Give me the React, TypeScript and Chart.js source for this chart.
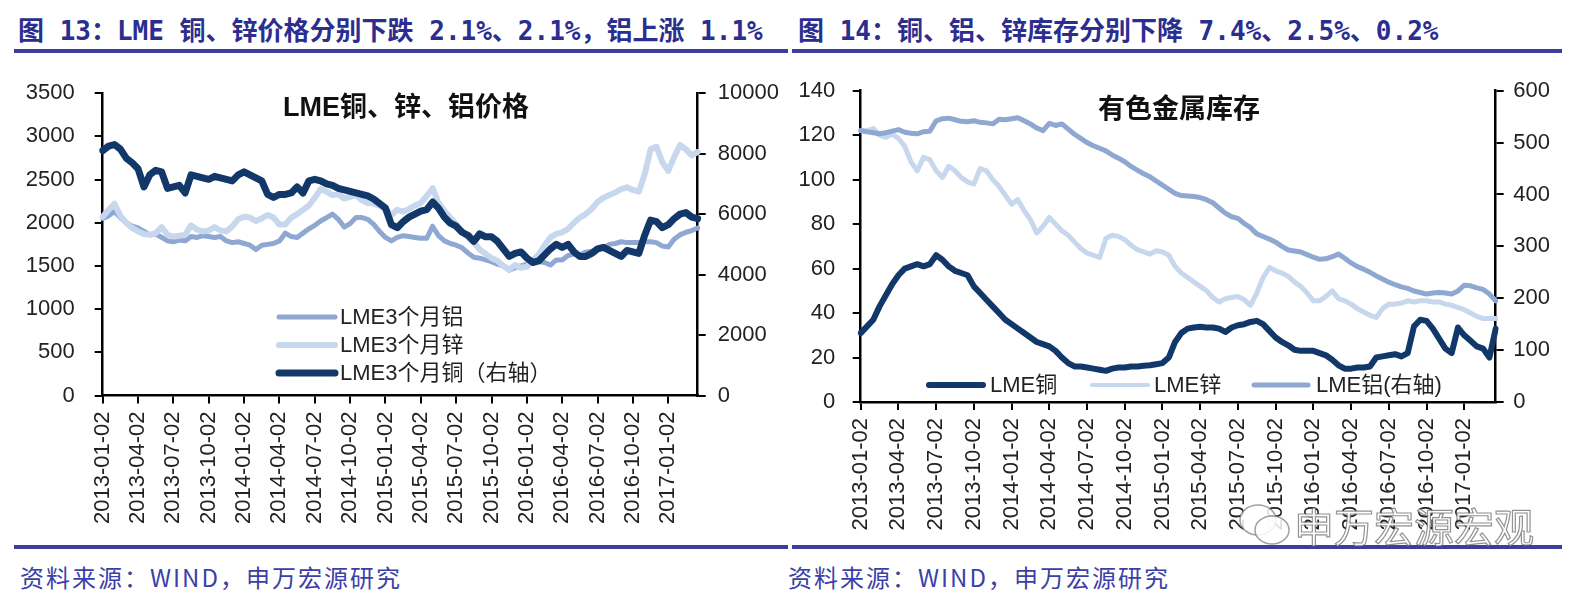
import React, { useEffect, useRef } from 'react';
import { Chart, registerables } from 'chart.js';

Chart.register(...registerables);

// ---------- tick labels & categories ----------
const tickLabels = [
  '2013-01-02', '2013-04-02', '2013-07-02', '2013-10-02',
  '2014-01-02', '2014-04-02', '2014-07-02', '2014-10-02',
  '2015-01-02', '2015-04-02', '2015-07-02', '2015-10-02',
  '2016-01-02', '2016-04-02', '2016-07-02', '2016-10-02',
  '2017-01-02',
];

const startYear = 2013;
const monthCount = 51; // 2013-01 .. 2017-03
const sampleDays = ['02', '16'];
const categories: string[] = [];
for (let m = 0; m < monthCount; m++) {
  const y = startYear + Math.floor(m / 12);
  const mm = String((m % 12) + 1).padStart(2, '0');
  for (const d of sampleDays) categories.push(`${y}-${mm}-${d}`);
}

// ---------- Chart 13: LME prices ----------
const priceAluminum = [
  2050, 2080, 2130, 2060, 2000, 1960, 1940, 1900, 1860, 1870,
  1830, 1790, 1780, 1800, 1790, 1840, 1830, 1850, 1840, 1830,
  1840, 1790, 1770, 1780, 1760, 1740, 1690, 1740, 1750, 1760,
  1790, 1880, 1840, 1830, 1880, 1930, 1970, 2020, 2060, 2100,
  2040, 1950, 1990, 2060, 2060, 2040, 1980, 1900, 1830, 1790,
  1830, 1850, 1840, 1830, 1820, 1820, 1960, 1850, 1790, 1760,
  1740, 1710, 1650, 1600, 1590, 1570, 1550, 1520, 1500, 1450,
  1480, 1500, 1520, 1540, 1550, 1540, 1510, 1570, 1570, 1620,
  1640, 1630, 1660, 1670, 1690, 1710, 1750, 1760, 1780, 1770,
  1770, 1770, 1780, 1780, 1770, 1730, 1720, 1810, 1860, 1890,
  1910, 1940,
];
const priceZinc = [
  2070, 2150, 2220, 2080, 2000, 1940, 1900, 1870, 1860, 1880,
  1950, 1860, 1840, 1850, 1860, 1970, 1920, 1900, 1910, 1950,
  1910, 1900, 1960, 2040, 2070, 2060, 2020, 2050, 2090, 2060,
  1980, 1980, 2060, 2100, 2150, 2200, 2290, 2390, 2360, 2320,
  2330, 2280, 2300, 2320, 2260, 2230, 2220, 2200, 2160, 2090,
  2150, 2130, 2160, 2200, 2230, 2310, 2400, 2230, 2140, 2060,
  1980, 1900, 1830, 1770, 1690, 1640, 1590, 1560, 1500, 1460,
  1510, 1480, 1490, 1570, 1630, 1740, 1830, 1870, 1890, 1930,
  2000, 2060, 2100, 2160, 2240, 2290, 2320, 2350, 2390, 2410,
  2380, 2360, 2560, 2850, 2880, 2700, 2600, 2760, 2900, 2850,
  2780, 2820,
];
const priceCopper = [
  8100, 8250, 8300, 8150, 7850, 7700, 7500, 6900, 7300, 7450,
  7400, 6850, 6900, 6950, 6700, 7300, 7250, 7200, 7150, 7250,
  7200, 7150, 7100, 7300, 7400, 7300, 7200, 7100, 6650, 6550,
  6650, 6650, 6700, 6900, 6700, 7100, 7150, 7100, 7000, 6950,
  6850, 6800, 6750, 6700, 6650, 6600, 6500, 6350, 6200, 5650,
  5550, 5750, 5900, 6000, 6100, 6150, 6400, 6200, 5900, 5700,
  5600, 5400, 5300, 5100, 5350, 5250, 5250, 5100, 4850, 4600,
  4700, 4750, 4550, 4400, 4450, 4650, 4850, 5000, 4900, 5000,
  4750, 4600, 4600, 4700, 4850, 4900, 4800, 4700, 4600, 4800,
  4750, 4700, 5300, 5800, 5750, 5550, 5650, 5850, 6000, 6050,
  5900, 5850,
];

// ---------- Chart 14: LME stocks ----------
const stockCopper = [
  31, 34, 37, 43, 48, 53, 57, 60, 61, 62,
  61, 62, 66, 64, 61, 59, 58, 57, 52, 49,
  46, 43, 40, 37, 35, 33, 31, 29, 27, 26,
  25, 23, 20, 17.5, 16, 16, 15.5, 15, 14.5, 14,
  15, 15.5, 15.5, 16, 16, 16.3, 16.5, 17, 17.5, 20,
  27, 31, 33, 33.5, 33.8, 33.5, 33.5, 33, 31.5, 33.5,
  34.5, 35, 36, 36.5, 35, 32, 29, 27, 25.5, 23.5,
  23, 23, 23, 22, 21, 19, 16.5, 15, 15, 15.5,
  15.5, 16, 20, 20.5, 21, 21.5, 20.5, 22, 34, 37,
  36.5, 33, 28.5, 24, 22, 33.5, 30, 27.5, 25, 24,
  20, 33,
];
const stockZinc = [
  122, 122, 123, 120, 119, 120.5, 118.5, 115, 108, 104,
  110, 109, 104, 101, 106, 104, 101, 99, 98, 105,
  104, 100, 97, 93, 89, 91, 86, 82, 76, 79,
  83, 80, 77, 75, 72, 69, 67, 66, 65, 73.5,
  75, 74.5, 73, 70.5, 68.5, 67.5, 66.5, 68, 67.5, 66,
  61, 58, 56, 54, 52, 50, 47, 45, 46.5, 47,
  47.5, 46, 43.5, 49, 56, 60.5, 59, 58, 56.5, 54,
  52, 49, 45.5, 45.5, 47.5, 50, 46.5, 45.5, 44, 42,
  40.5, 39, 38, 42, 44, 44, 44.5, 45.5, 45, 45.5,
  45.5, 45, 45, 44, 43.5, 42.5, 41.5, 40, 38.5, 37.5,
  37.5, 37.5,
];
const stockAluminum = [
  523, 521, 519, 517, 519, 522, 525, 520, 518, 517,
  521, 522, 542, 546, 547, 544, 541, 540, 542, 539,
  538, 536, 545, 544, 546, 548, 542, 536, 528, 523,
  537, 533, 536, 526, 516, 508, 500, 494, 489, 484,
  476, 470, 463, 454, 447, 440, 434, 426, 418, 410,
  402, 398, 397, 396, 394, 390, 384, 374, 364, 357,
  354, 344, 336, 324, 319, 314, 308, 300, 293, 291,
  289, 284, 279, 275, 276, 280, 285, 277, 268, 261,
  256, 250, 243, 237, 231, 226, 222, 219, 214, 211,
  208, 210, 211, 210, 208, 214, 225, 224, 220, 217,
  208, 195,
];

// ---------- styling ----------
const COPPER = 'rgb(18, 56, 106)';
const ZINC = 'rgb(199, 215, 237)';
const ALUM = 'rgb(142, 168, 209)';
const TICK_FONT = { family: '"Liberation Sans", Arial, sans-serif', size: 22 };
const TICK_COLOR = '#222';

const insideLegend = {
  id: 'insideLegend',
  afterDatasetsDraw(chart: any, _args: any, opts: any) {
    const { ctx } = chart;
    ctx.save();
    ctx.font = opts.font;
    ctx.textBaseline = 'middle';
    ctx.textAlign = 'left';
    for (const it of opts.items) {
      const ds = chart.data.datasets[it.index];
      ctx.strokeStyle = ds.borderColor;
      ctx.lineWidth = it.lineWidth;
      ctx.lineCap = 'round';
      ctx.beginPath();
      ctx.moveTo(it.x, it.y);
      ctx.lineTo(it.x + it.len, it.y);
      ctx.stroke();
      ctx.fillStyle = opts.color;
      ctx.fillText(ds.label, it.x + it.len + it.gap, it.y + 1);
    }
    ctx.restore();
  },
};

function xScale(height: number, pad: number) {
  return {
    type: 'category',
    offset: false,
    border: { display: true, color: '#000', width: 2.5 },
    grid: { display: true, drawOnChartArea: false, drawTicks: true, tickLength: 8, color: '#000', lineWidth: 2 },
    ticks: {
      autoSkip: false,
      minRotation: 90,
      maxRotation: 90,
      padding: pad,
      font: TICK_FONT,
      color: TICK_COLOR,
    },
    afterBuildTicks: (scale: any) => {
      scale.ticks = scale.ticks.filter((t: any) => tickLabels.includes(categories[t.value]));
    },
    afterFit: (scale: any) => {
      scale.height = height;
    },
  };
}

function yScale(position: string, max: number, step: number, width: number, pad: number) {
  return {
    type: 'linear',
    position,
    min: 0,
    max,
    border: { display: true, color: '#000', width: 2.5 },
    grid: { display: true, drawOnChartArea: false, drawTicks: true, tickLength: 8, color: '#000', lineWidth: 2 },
    ticks: {
      stepSize: step,
      padding: pad,
      font: TICK_FONT,
      color: TICK_COLOR,
      callback: (v: any) => String(v),
    },
    afterFit: (scale: any) => {
      scale.width = width;
    },
  };
}

function lineDs(label: string, data: number[], color: string, width: number, axis: string, order: number) {
  return {
    label,
    data,
    borderColor: color,
    backgroundColor: color,
    borderWidth: width,
    pointRadius: 0,
    tension: 0,
    fill: false,
    yAxisID: axis,
    order,
    borderJoinStyle: 'round',
    borderCapStyle: 'round',
  };
}

export default function App() {
  const leftRef = useRef<HTMLCanvasElement | null>(null);
  const rightRef = useRef<HTMLCanvasElement | null>(null);

  useEffect(() => {
    const left = new Chart(leftRef.current as HTMLCanvasElement, {
      type: 'line',
      data: {
        labels: categories,
        datasets: [
          lineDs('LME3个月铝', priceAluminum, ALUM, 5, 'y', 2),
          lineDs('LME3个月锌', priceZinc, ZINC, 6, 'y', 1),
          lineDs('LME3个月铜（右轴）', priceCopper, COPPER, 7, 'y1', 0),
        ],
      } as any,
      options: {
        responsive: false,
        animation: false,
        layout: { padding: { top: 29.3, left: 0, right: 0, bottom: 0 } },
        scales: {
          x: xScale(144.5, 8),
          y: yScale('left', 3500, 500, 102.7, 20),
          y1: yScale('right', 10000, 2000, 92.3, 12),
        } as any,
        plugins: {
          legend: { display: false },
          tooltip: { enabled: false },
          insideLegend: {
            font: '22px "Liberation Sans", "Noto Sans CJK SC", sans-serif',
            color: '#222',
            items: [
              { index: 0, x: 279, y: 257, len: 56, gap: 5, lineWidth: 5 },
              { index: 1, x: 279, y: 285, len: 56, gap: 5, lineWidth: 6 },
              { index: 2, x: 279, y: 313, len: 56, gap: 5, lineWidth: 7 },
            ],
          },
        } as any,
      },
      plugins: [insideLegend],
    });

    const right = new Chart(rightRef.current as HTMLCanvasElement, {
      type: 'line',
      data: {
        labels: categories,
        datasets: [
          lineDs('LME铜', stockCopper, COPPER, 6, 'y', 2),
          lineDs('LME锌', stockZinc, ZINC, 5, 'y', 1),
          lineDs('LME铝(右轴)', stockAluminum, ALUM, 5, 'y1', 0),
        ],
      } as any,
      options: {
        responsive: false,
        animation: false,
        layout: { padding: { top: 20.5, left: 0, right: 0, bottom: 0 } },
        scales: {
          x: xScale(138, 8),
          y: yScale('left', 140, 20, 70.7, 17.5),
          y1: yScale('right', 600, 100, 96.3, 9.5),
        } as any,
        plugins: {
          legend: { display: false },
          tooltip: { enabled: false },
          insideLegend: {
            font: '22px "Liberation Sans", "Noto Sans CJK SC", sans-serif',
            color: '#222',
            items: [
              { index: 0, x: 139, y: 325, len: 54, gap: 7, lineWidth: 6 },
              { index: 1, x: 302, y: 325, len: 56, gap: 6, lineWidth: 4 },
              { index: 2, x: 464, y: 325, len: 54, gap: 8, lineWidth: 5 },
            ],
          },
        } as any,
      },
      plugins: [insideLegend],
    });

    return () => {
      left.destroy();
      right.destroy();
    };
  }, []);

  const titleStyle: React.CSSProperties = {
    position: 'absolute',
    top: 16,
    height: 30,
    lineHeight: '30px',
    fontFamily: '"DejaVu Sans Mono", "Noto Sans CJK SC", monospace',
    fontWeight: 700,
    fontSize: 26,
    color: '#2b2e8f',
    whiteSpace: 'nowrap',
  };
  const footStyle: React.CSSProperties = {
    position: 'absolute',
    top: 562,
    height: 30,
    lineHeight: '30px',
    fontFamily: '"Noto Sans CJK SC", sans-serif',
    fontWeight: 400,
    fontSize: 24,
    letterSpacing: 2,
    color: '#3c40a6',
    whiteSpace: 'nowrap',
  };
  const rule = (left: number, width: number, top: number): React.CSSProperties => ({
    position: 'absolute',
    left,
    width,
    top,
    height: 4,
    background: '#3b3e9c',
  });
  const innerTitle: React.CSSProperties = {
    position: 'absolute',
    fontFamily: '"Liberation Sans", "Noto Sans CJK SC", sans-serif',
    fontWeight: 700,
    fontSize: 27,
    color: '#111',
    whiteSpace: 'nowrap',
    transform: 'translate(-50%, -50%)',
  };

  return (
    <div
      style={{
        position: 'absolute',
        left: 0,
        top: 0,
        width: 1592,
        height: 601,
        background: '#fff',
        overflow: 'hidden',
      }}
    >
      <div style={{ ...titleStyle, left: 18 }}>图 13：LME 铜、锌价格分别下跌 2.1%、2.1%，铝上涨 1.1%</div>
      <div style={{ ...titleStyle, left: 798 }}>图 14：铜、铝、锌库存分别下降 7.4%、2.5%、0.2%</div>
      <div style={rule(14, 774, 49)} />
      <div style={rule(792, 770, 49)} />

      <canvas ref={leftRef} width={790} height={480} style={{ position: 'absolute', left: 0, top: 60 }} />
      <canvas ref={rightRef} width={802} height={480} style={{ position: 'absolute', left: 790, top: 60 }} />

      <div style={{ ...innerTitle, left: 406, top: 104 }}>LME铜、锌、铝价格</div>
      <div style={{ ...innerTitle, left: 1179, top: 106 }}>有色金属库存</div>

      <div style={rule(14, 774, 545)} />
      <div style={rule(792, 770, 545)} />
      <div style={{ ...footStyle, left: 20 }}>资料来源：WIND，申万宏源研究</div>
      <div style={{ ...footStyle, left: 788 }}>资料来源：WIND，申万宏源研究</div>

      <div style={{ position: 'absolute', left: 1236, top: 500, width: 320, height: 52, pointerEvents: 'none' }}>
        <svg width="58" height="52" style={{ position: 'absolute', left: 0, top: 0 }}>
          <ellipse cx="22" cy="20" rx="18" ry="15" fill="rgba(255,255,255,0.85)" stroke="rgba(120,120,120,0.7)" strokeWidth="1.5" />
          <ellipse cx="36" cy="30" rx="17" ry="14" fill="rgba(255,255,255,0.85)" stroke="rgba(120,120,120,0.7)" strokeWidth="1.5" />
        </svg>
        <div
          style={{
            position: 'absolute',
            left: 58,
            top: 2,
            fontFamily: '"Noto Sans CJK SC", sans-serif',
            fontSize: 40,
            lineHeight: '46px',
            color: 'rgba(255,255,255,0.9)',
            WebkitTextStroke: '1.2px rgba(110,110,110,0.75)',
            whiteSpace: 'nowrap',
          }}
        >
          申万宏源宏观
        </div>
      </div>
    </div>
  );
}
